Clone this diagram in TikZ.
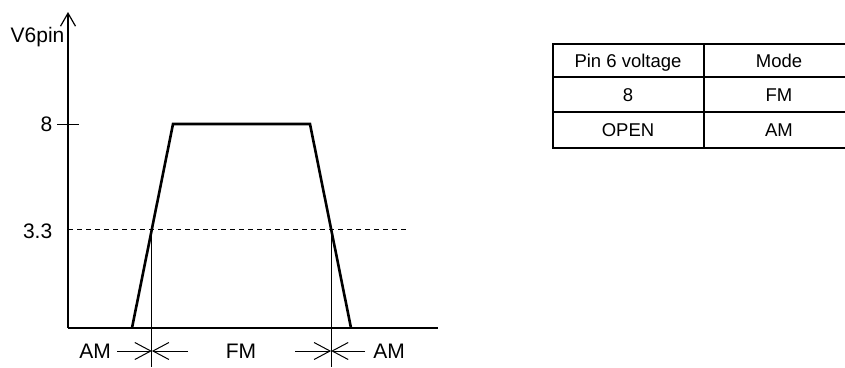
\documentclass[tikz,border=0pt]{standalone}
\usepackage{fontspec}
\setmainfont{Liberation Sans}
\usetikzlibrary{arrows.meta,positioning,calc}

\begin{document}
\begin{tikzpicture}[x=1pt,y=-1pt,semithick]
\tikzstyle{label node}=[inner sep=0,text height=15pt,text depth=0pt,font=\fontsize{21}{24}\selectfont]
\tikzstyle{cell node}=[inner sep=0,text height=13.3pt,text depth=0pt,font=\fontsize{18.5}{20}\selectfont]

\tikzset{
	axis line/.style={line width=1.3pt},
	wave line/.style={line width=2.6pt,line join=miter},
	thin line/.style={line width=1pt},
	level line/.style={line width=1pt,dash pattern=on 5pt off 4pt},
	table line/.style={line width=1.9pt},
	axis arrow/.style={-{Straight Barb[length=13pt,width=15pt,line width=1.2pt]}},
	barb/.style={-{Straight Barb[length=16pt,width=17pt,line width=1pt]}}
}
\useasboundingbox (0,0) rectangle (845,367);

    % axes
    \coordinate (O) at (68,328);
    \coordinate (ytop) at (68,12);
    \coordinate (xend) at (438,328);
    \draw[axis line,axis arrow] (O) -- (ytop);
    \draw[axis line] (O) -- (xend);
    \node[label node] (vlabel) at (37.5,34.5) {V6pin};

    % levels
    \coordinate (t8a) at (57,124);
    \coordinate (t8b) at (79,124);
    \draw[thin line] (t8a) -- (t8b);
    \node[label node,anchor=east] (lv8) at (52.5,124) {8};
    \coordinate (d1) at (68,229);
    \coordinate (d2) at (408,229);
    \draw[level line] (d1) -- (d2);
    \node[label node,anchor=east] (lv33) at (52.5,230.5) {3.3};

    % switching waveform
    \coordinate (b1) at (132,328);
    \coordinate (t1) at (173,124);
    \coordinate (t2) at (310,124);
    \coordinate (b2) at (351,328);
    \draw[wave line] (b1) -- (t1) -- (t2) -- (b2);

    % thresholds
    \coordinate (s1) at ($(b1)!0.485!(t1)$);
    \coordinate (s2) at ($(b2)!0.485!(t2)$);
    \coordinate (v1) at (s1 |- 0,367);
    \coordinate (v2) at (s2 |- 0,367);
    \draw[thin line] (s1) -- (v1);
    \draw[thin line] (s2) -- (v2);

    % mode ranges
    \node[label node] (amL) at (95,350.5) {AM};
    \node[label node] (fm) at (241,350.5) {FM};
    \node[label node] (amR) at (389,350.5) {AM};
    \coordinate (c1) at (s1 |- 0,351);
    \coordinate (c2) at (s2 |- 0,351);
    \coordinate (l1) at (117,351);
    \coordinate (l2) at (188,351);
    \coordinate (r1) at (295,351);
    \coordinate (r2) at (365,351);
    \path[thin line,barb] (l1) edge (c1)
                          (l2) edge (c1)
                          (r1) edge (c2)
                          (r2) edge (c2);

    % table
    \begin{scope}
    \clip (540,30) rectangle (845,160);
    \draw[table line] (553,44) rectangle (854,148);
    \draw[table line] (553,77) -- (854,77)
                      (553,112) -- (854,112)
                      (704,44) -- (704,148);
    \end{scope}
    \node[cell node] (hv) at (628,60.5) {Pin 6 voltage};
    \node[cell node] (hm) [right of=hv,node distance=151pt] {Mode};
    \node[cell node] (v8) at (628,95) {8};
    \node[cell node] (m8) [right of=v8,node distance=151pt] {FM};
    \node[cell node] (vo) at (628,130) {OPEN};
    \node[cell node] (mo) [right of=vo,node distance=151pt] {AM};
\end{tikzpicture}
\end{document}
